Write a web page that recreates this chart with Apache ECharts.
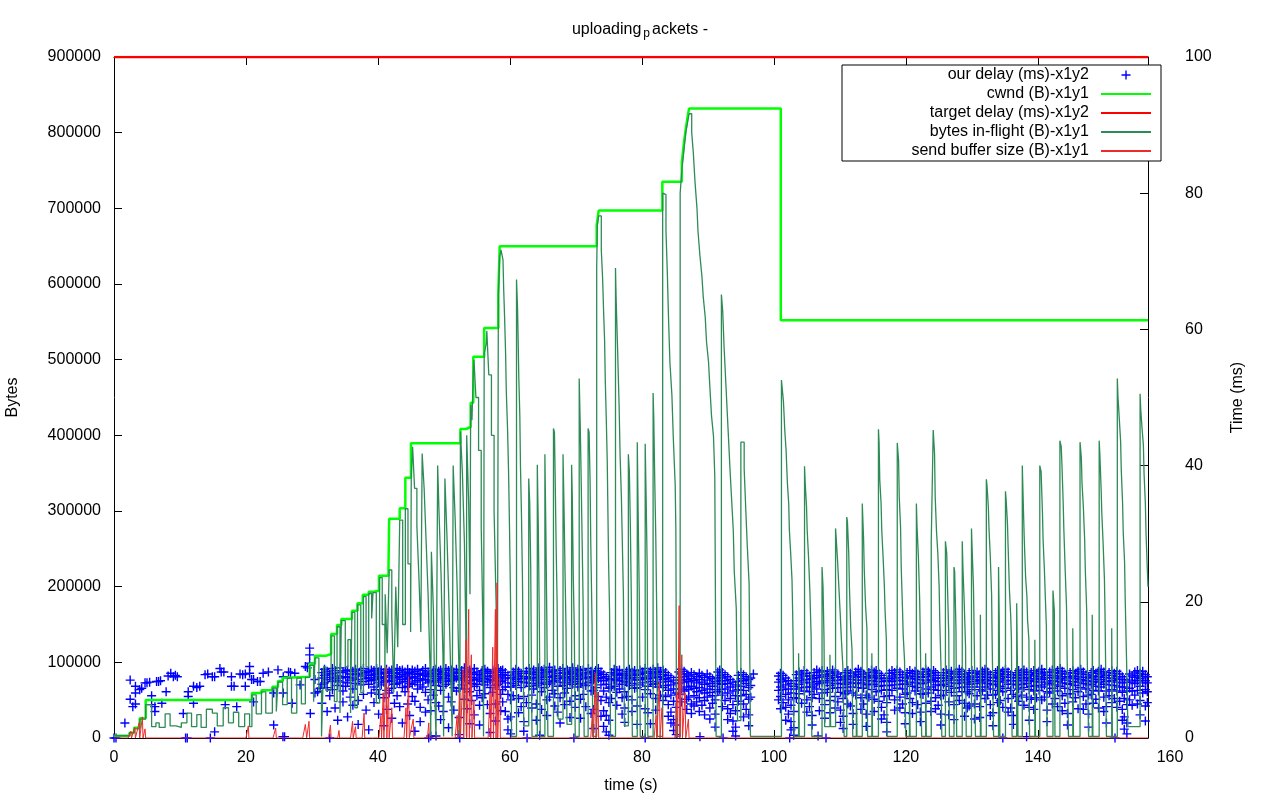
<!DOCTYPE html>
<html>
<head>
<meta charset="utf-8">
<title>uploading packets</title>
<script src="https://cdn.jsdelivr.net/npm/echarts@6.0.0/dist/echarts.min.js"></script>
<style>
  html, body { margin: 0; padding: 0; background: #fff; }
  #chart { width: 1280px; height: 800px; }
</style>
</head>
<body>
<div id="chart"></div>
<script>
// cwnd (bytes), step values [time s, bytes]
const cwnd = [
  [0, 3000], [2.35, 7000], [3.05, 13600], [3.9, 26000], [4.8, 50200], [20.9, 59500], [22.35, 63000],
  [24.0, 67800], [24.85, 75300], [25.55, 79700], [26.45, 81000], [29.65, 98200], [30.45, 108600],
  [32.1, 111000], [32.9, 137400], [33.8, 149300], [34.45, 157300], [36.05, 168200], [36.9, 178000],
  [37.7, 189400], [38.6, 193400], [39.35, 194700], [40.15, 214500], [41.6, 224300], [41.7, 289800],
  [43.3, 303500], [44.15, 344000], [45.0, 389400], [52.5, 408400], [53.35, 411000], [54.05, 443000],
  [54.45, 504000], [56.1, 542000], [58.25, 590000], [58.45, 650000], [73.15, 678000], [73.45, 697000],
  [83.1, 735000], [86.05, 760000], [86.35, 785000], [86.65, 805000], [86.95, 822000], [87.15, 832000],
  [101.05, 552000], [156.7, 552000]
]

// target delay (ms)
const targetDelay = [[0, 100], [156.7, 100]]

// bytes in-flight, step values [time s, bytes]
const inflight = [
  [0, 3e3], [2.35, 7e3], [3.05, 12e3], [3.9, 25e3], [4.8, 44e3], [5.7, 15e3], [6.35, 20e3], [6.85, 14e3],
  [7.75, 32e3], [8.5, 16e3], [9.4, 14e3], [10.2, 20e3], [11.05, 33e3], [11.75, 15e3], [12.55, 31e3],
  [13.2, 14e3], [14.0, 38e3], [14.9, 33e3], [15.65, 16e3], [16.55, 40e3], [17.35, 20e3], [18.1, 34e3],
  [18.9, 15e3], [19.8, 32e3], [20.55, 15e3], [20.9, 57e3], [21.55, 32e3], [22.35, 61e3], [23.0, 33e3],
  [24.0, 66e3], [24.6, 35e3], [24.85, 74e3], [25.55, 44e3], [26.25, 79e3], [26.9, 33e3], [27.7, 79e3],
  [28.4, 45e3], [29.0, 80e3], [29.65, 96e3], [30.25, 48e3], [30.45, 106e3], [31.05, 63e3], [31.45, 2e3],
  [31.75, 94e3], [32.1, 63e3], [32.9, 135e3], [33.4, 48e3], [33.8, 147e3], [34.25, 33e3], [34.45, 155e3],
  [35.05, 94e3], [35.45, 130e3], [35.85, 33e3], [36.05, 166e3], [36.5, 40e3], [36.9, 176e3], [37.4, 60e3],
  [37.8, 187e3], [38.2, 94e3], [38.6, 191e3], [39.05, 158e3], [39.25, 192e3], [39.75, 46e3], [40.25, 212e3],
  [40.65, 150e3], [41.05, 60e3], [41.1, 190e3], [41.4, 112e3], [41.7, 222e3], [42.1, 160e3], [42.4, 60e3],
  [42.7, 200e3], [43.0, 120e3], [43.3, 288e3], [43.75, 150e3], [44.15, 303e3], [44.55, 230e3], [44.95, 140e3],
  [45.05, 345e3], [45.25, 385e3], [45.55, 330e3], [45.9, 280e3], [46.2, 215e3], [46.5, 140e3],
  [46.7, 376e3], [47.0, 330e3], [47.3, 260e3], [47.6, 190e3], [47.9, 90e3], [48.0, 2e3],
  [48.1, 246e3], [48.4, 170e3], [48.6, 60e3], [48.8, 2e3],
  [49.05, 360e3], [49.25, 300e3], [49.55, 220e3], [49.85, 110e3], [49.95, 2e3],
  [50.15, 343e3], [50.45, 270e3], [50.75, 180e3], [51.05, 80e3], [51.25, 2e3],
  [51.4, 360e3], [51.7, 290e3], [52.0, 200e3], [52.3, 80e3], [52.4, 2e3],
  [52.5, 405e3], [52.8, 350e3], [53.1, 260e3], [53.3, 150e3], [53.4, 2e3],
  [53.45, 400e3], [53.75, 310e3], [53.95, 190e3], [54.05, 440e3], [54.25, 420e3], [54.45, 482e3], [54.55, 500e3],
  [54.85, 450e3], [55.25, 380e3], [55.65, 280e3], [55.9, 150e3], [56.0, 2e3],
  [56.1, 508e3], [56.4, 521e3], [56.5, 538e3], [56.8, 480e3], [57.2, 400e3], [57.6, 300e3], [57.9, 180e3], [58.1, 30e3],
  [58.25, 585e3], [58.45, 636e3], [58.65, 645e3], [58.95, 632e3], [59.05, 595e3], [59.2, 554e3], [59.35, 507e3],
  [59.45, 459e3], [59.65, 406e3], [59.8, 350e3], [59.95, 272e3], [60.1, 179e3], [60.2, 63e3], [60.25, 2e3],
  [61.0, 606e3], [61.15, 570e3], [61.25, 525e3], [61.35, 475e3], [61.5, 427e3], [61.6, 359e3], [61.75, 295e3],
  [61.9, 211e3], [62.0, 121e3], [62.1, 16e3],
  [62.85, 343e3], [63.0, 311e3], [63.15, 227e3], [63.25, 107e3], [63.35, 2e3],
  [64.15, 361e3], [64.3, 280e3], [64.45, 159e3], [64.6, 2e3],
  [65.3, 375e3], [65.45, 273e3], [65.6, 150e3], [65.75, 2e3],
  [66.6, 409e3], [66.75, 404e3], [66.85, 348e3], [67.0, 257e3], [67.15, 180e3], [67.3, 25e3],
  [68.05, 375e3], [68.2, 304e3], [68.35, 221e3], [68.5, 146e3], [68.65, 18e3],
  [69.35, 361e3], [69.45, 320e3], [69.6, 214e3], [69.75, 148e3], [69.9, 2e3],
  [70.5, 475e3], [70.65, 416e3], [70.8, 341e3], [70.95, 257e3], [71.1, 175e3], [71.25, 2e3],
  [71.85, 409e3], [72.0, 404e3], [72.15, 339e3], [72.25, 259e3], [72.45, 150e3], [72.55, 2e3],
  [73.15, 620e3], [73.25, 677e3], [73.45, 690e3], [73.85, 645e3], [74.05, 607e3], [74.2, 563e3], [74.35, 525e3],
  [74.45, 473e3], [74.6, 423e3], [74.75, 366e3], [74.95, 234e3], [75.1, 168e3], [75.25, 2e3],
  [76.0, 621e3], [76.1, 579e3], [76.3, 520e3], [76.55, 438e3], [76.7, 373e3], [76.9, 316e3], [77.05, 252e3],
  [77.2, 189e3], [77.35, 16e3],
  [77.95, 375e3], [78.1, 352e3], [78.25, 282e3], [78.4, 184e3], [78.55, 2e3],
  [79.3, 391e3], [79.45, 286e3], [79.6, 191e3], [79.75, 2e3],
  [80.5, 389e3], [80.65, 315e3], [80.8, 226e3], [80.9, 2e3],
  [81.7, 456e3], [81.8, 423e3], [81.95, 340e3], [82.1, 269e3], [82.25, 166e3], [82.35, 2e3],
  [83.15, 720e3], [83.35, 718e3], [83.65, 670e3], [83.85, 616e3], [84.05, 551e3], [84.25, 496e3], [84.55, 453e3],
  [84.75, 399e3], [85.05, 334e3], [85.15, 274e3], [85.25, 2e3],
  [85.8, 720e3], [86.05, 750e3], [86.35, 775e3], [86.65, 800e3], [86.95, 815e3], [87.15, 825e3], [87.55, 800e3],
  [87.8, 773e3], [88.05, 735e3], [88.35, 700e3], [88.5, 670e3], [88.8, 637e3], [89.1, 610e3], [89.3, 583e3],
  [89.6, 556e3], [89.8, 523e3], [90.1, 497e3], [90.3, 464e3], [90.55, 426e3], [90.85, 399e3], [91.05, 345e3], [91.25, 2e3],
  [92.05, 586e3], [92.25, 564e3], [92.45, 518e3], [92.75, 464e3], [93.05, 410e3], [93.35, 356e3], [93.55, 323e3],
  [93.85, 275e3], [94.0, 220e3], [94.3, 172e3], [94.4, 107e3], [94.5, 23e3],
  [95.0, 391e3], [95.5, 356e3], [95.75, 301e3], [95.95, 258e3], [96.25, 204e3], [96.35, 107e3], [96.45, 2e3],
  [101.15, 473e3], [101.45, 445e3], [101.55, 427e3], [101.65, 407e3], [101.85, 381e3], [102.05, 337e3], [102.25, 310e3],
  [102.35, 275e3], [102.55, 244e3], [102.75, 209e3], [102.85, 165e3], [102.95, 110e3], [103.05, 2e3],
  [103.75, 112e3], [103.85, 2e3],
  [104.65, 359e3], [104.75, 337e3], [104.95, 306e3], [105.05, 275e3], [105.25, 240e3], [105.45, 196e3], [105.65, 134e3], [105.75, 2e3],
  [107.3, 226e3], [107.45, 200e3], [107.6, 132e3], [107.7, 15e3],
  [108.5, 110e3], [108.6, 15e3],
  [109.35, 277e3], [109.45, 264e3], [109.65, 235e3], [109.85, 200e3], [110.05, 165e3], [110.25, 128e3], [110.45, 95e3], [110.55, 48e3], [110.65, 2e3],
  [111.05, 292e3], [111.15, 286e3], [111.35, 244e3], [111.45, 200e3], [111.65, 145e3], [111.85, 116e3], [111.95, 2e3],
  [112.5, 81e3], [112.6, 2e3],
  [113.4, 310e3], [113.6, 262e3], [113.7, 222e3], [113.9, 174e3], [114.1, 145e3], [114.2, 2e3],
  [114.85, 112e3], [114.95, 2e3],
  [115.85, 408e3], [115.95, 390e3], [116.05, 341e3], [116.25, 310e3], [116.35, 275e3], [116.55, 240e3], [116.75, 200e3], [116.85, 169e3], [117.05, 130e3], [117.15, 2e3],
  [118.7, 390e3], [118.9, 367e3], [119.0, 319e3], [119.2, 279e3], [119.3, 226e3], [119.5, 169e3], [119.6, 136e3], [119.8, 103e3], [120.0, 2e3],
  [120.55, 81e3], [120.65, 2e3],
  [121.6, 310e3], [121.7, 279e3], [121.9, 240e3], [122.1, 182e3], [122.2, 127e3], [122.4, 2e3],
  [123.0, 112e3], [123.1, 2e3],
  [123.85, 259e3], [124.15, 407e3], [124.35, 376e3], [124.45, 319e3], [124.65, 273e3], [124.85, 244e3], [125.05, 200e3], [125.15, 152e3], [125.35, 86e3], [125.45, 2e3],
  [126.0, 260e3], [126.2, 244e3], [126.3, 204e3], [126.5, 138e3], [126.6, 2e3],
  [127.3, 226e3], [127.4, 220e3], [127.6, 143e3], [127.7, 2e3],
  [128.55, 260e3], [128.65, 226e3], [128.85, 178e3], [129.05, 121e3], [129.15, 2e3],
  [129.95, 277e3], [130.05, 249e3], [130.25, 200e3], [130.35, 141e3], [130.55, 2e3],
  [131.3, 163e3], [131.4, 2e3],
  [132.2, 342e3], [132.3, 334e3], [132.5, 306e3], [132.6, 277e3], [132.8, 240e3], [133.0, 189e3], [133.1, 116e3], [133.3, 2e3],
  [134.05, 226e3], [134.15, 160e3], [134.25, 2e3],
  [135.1, 326e3], [135.2, 315e3], [135.4, 284e3], [135.5, 253e3], [135.7, 196e3], [135.9, 160e3], [136.0, 130e3], [136.1, 2e3],
  [136.8, 178e3], [136.9, 105e3], [137.0, 2e3],
  [137.65, 360e3], [137.85, 293e3], [137.95, 262e3], [138.15, 213e3], [138.35, 187e3], [138.45, 156e3], [138.65, 130e3], [138.75, 2e3],
  [139.55, 130e3], [139.65, 2e3],
  [140.3, 360e3], [140.5, 352e3], [140.7, 299e3], [140.8, 262e3], [141.0, 222e3], [141.1, 196e3], [141.3, 147e3], [141.4, 2e3],
  [142.3, 195e3], [142.5, 169e3], [142.6, 2e3],
  [143.35, 393e3], [143.55, 385e3], [143.65, 363e3], [143.85, 310e3], [143.95, 275e3], [144.15, 222e3], [144.35, 174e3], [144.45, 101e3], [144.65, 2e3],
  [145.3, 145e3], [145.4, 2e3],
  [146.4, 391e3], [146.6, 370e3], [146.7, 337e3], [146.9, 306e3], [147.1, 262e3], [147.2, 222e3], [147.4, 171e3], [147.5, 101e3], [147.7, 2e3],
  [148.25, 163e3], [148.35, 2e3],
  [149.3, 393e3], [149.4, 376e3], [149.6, 328e3], [149.7, 297e3], [149.9, 257e3], [150.1, 209e3], [150.2, 156e3], [150.4, 2e3],
  [151.2, 145e3], [151.3, 2e3],
  [152.05, 475e3], [152.15, 451e3], [152.35, 422e3], [152.55, 392e3], [152.65, 354e3], [152.85, 310e3], [152.95, 271e3],
  [153.15, 233e3], [153.25, 182e3], [153.45, 103e3], [153.65, 15e3],
  [155.5, 455e3], [155.6, 434e3], [155.8, 409e3], [156.0, 387e3], [156.1, 350e3], [156.3, 310e3], [156.4, 271e3],
  [156.6, 222e3], [156.7, 200e3]
]

// send buffer size (bytes)
const sendBuffer = [
  [0, 0], [2.15, 0], [2.55, 9e3], [2.65, 0], [3.15, 14e3], [3.25, 0], [3.8, 20e3], [3.9, 0], [4.3, 28e3], [4.4, 0],
  [4.7, 12e3], [4.8, 0], [20.0, 0], [20.35, 16e3], [20.45, 0], [24.1, 0], [24.5, 13e3], [24.6, 0], [28.6, 0],
  [29.0, 18e3], [29.2, 0], [29.55, 22e3], [29.65, 0], [32.5, 0], [32.8, 17e3], [32.9, 0], [33.9, 0], [34.1, 10e3],
  [34.2, 0], [35.85, 0], [36.15, 22e3], [36.25, 0], [36.6, 15e3], [36.7, 0], [37.6, 0], [37.9, 33e3], [38.0, 0],
  [40.15, 0], [40.45, 30e3], [40.55, 0], [40.8, 60e3], [40.9, 0], [41.25, 94e3], [41.35, 0], [41.6, 70e3], [41.7, 0],
  [42.1, 40e3], [42.2, 0], [43.95, 0], [44.25, 40e3], [44.35, 0], [44.65, 81e3], [44.75, 0], [45.35, 25e3], [45.45, 0],
  [47.5, 0], [47.7, 20e3], [47.8, 0], [51.7, 0], [52.0, 30e3], [52.1, 0], [52.4, 60e3], [52.5, 0], [52.9, 90e3],
  [53.0, 0], [53.35, 130e3], [53.45, 0], [53.75, 170e3], [53.85, 0], [54.15, 110e3], [54.25, 0], [54.55, 50e3],
  [54.65, 0], [56.7, 0], [57.0, 60e3], [57.1, 0], [57.4, 120e3], [57.5, 0], [57.8, 170e3], [57.9, 0], [58.05, 205e3],
  [58.15, 0], [58.45, 80e3], [58.55, 0], [72.25, 0], [72.55, 40e3], [72.65, 0], [72.95, 86e3], [73.05, 0],
  [73.35, 60e3], [73.45, 0], [81.85, 0], [82.15, 30e3], [82.25, 0], [82.65, 74e3], [82.75, 0], [83.05, 40e3],
  [83.15, 0], [85.0, 0], [85.3, 60e3], [85.4, 0], [85.65, 175e3], [85.75, 0], [86.05, 110e3], [86.15, 0],
  [86.55, 60e3], [86.65, 0], [87.05, 25e3], [87.15, 0], [156.7, 0]
]

// our delay (ms): early single samples [time s, ms]
const delayEarly = [
  [0, 0], [0.3, 0], [1.65, 2.2], [2.45, 8.5], [2.45, 5.7], [2.85, 4.6], [3.25, 7.6], [3.25, 6.6], [3.25, 5.0],
  [3.9, 7.1], [4.2, 7.3], [4.7, 8.1], [5.0, 8.1], [5.4, 8.2], [5.7, 6.2], [5.7, 4.9], [6.2, 4.6], [6.2, 3.9],
  [6.45, 8.3], [6.75, 8.3], [7.05, 8.4], [7.25, 5.1], [7.9, 6.8], [8.2, 9.1], [8.6, 9.5], [9.0, 9.0], [9.3, 9.2],
  [9.6, 9.0], [10.5, 3.6], [10.85, 0], [11.25, 6.8], [11.25, 6.1], [12.05, 7.6], [12.05, 5.1], [12.55, 7.4],
  [13.0, 7.6], [13.8, 9.3], [14.2, 9.4], [14.6, 0], [14.9, 9.0], [15.25, 0.9], [15.25, 9.0], [16.05, 10.2],
  [16.25, 9.7], [16.65, 9.7], [16.85, 4.9], [17.8, 9.0], [17.8, 7.6], [18.2, 7.6], [18.6, 4.6], [19.1, 9.4],
  [19.5, 9.3], [19.9, 9.4], [19.9, 7.6], [20.55, 10.5], [20.55, 9.5], [20.85, 8.6], [21.15, 8.6], [21.15, 5.3],
  [21.75, 8.3], [22.15, 8.3], [22.6, 9.5], [23.4, 9.7], [24.2, 6.6], [24.2, 1.9], [24.85, 10.0], [25.65, 9.0],
  [25.65, 6.6], [25.85, 0.2], [26.45, 9.7], [26.75, 9.6], [27.0, 5.1], [27.4, 9.5], [28.2, 7.8], [29.0, 10.5],
  [29.3, 10.3], [29.65, 13.2], [29.65, 12.2], [29.65, 11.0], [29.75, 3.6], [30.45, 8.6], [30.45, 6.6],
  [30.85, 6.8], [31.25, 7.3]
]

// our delay (ms): later samples, several readings per time [time s, ms, ms, ...]
const delayRows = [
  [31.5, 9.6, 8.8, 7.9, 5.1], [31.9, 10.1, 9.2, 8.1], [32.3, 9.8, 8.6, 7.4, 3.9], [32.7, 9.4, 8.9, 6.2],
  [33.1, 10.2, 9.5, 8.3, 7.1], [33.5, 9.9, 8.7, 4.4], [33.9, 9.1, 8.4, 7.7, 2.6], [34.3, 10.3, 9.6, 8.8],
  [34.7, 9.7, 8.2, 6.9, 5.3], [35.1, 9.9, 9.0, 7.6], [35.4, 10.0, 8.9, 8.1, 3.1], [35.8, 9.4, 8.5, 6.0],
  [36.2, 9.8, 8.8, 7.2, 4.8], [36.6, 10.1, 9.3, 8.0], [37.0, 9.5, 8.6, 5.5, 2.0], [37.4, 9.9, 9.1, 7.8],
  [37.8, 10.2, 9.4, 8.3, 6.4], [38.2, 9.6, 8.7, 4.1], [38.6, 9.8, 8.9, 7.9, 1.2], [39.0, 10.0, 9.2, 8.4, 6.6],
  [39.4, 9.9, 9.3, 8.6, 7.5, 5.2], [39.8, 10.2, 9.5, 8.8, 7.1], [40.1, 9.7, 9.0, 8.1, 6.4, 3.5], [40.5, 10.0, 9.4, 8.7, 7.8],
  [40.9, 9.6, 8.9, 8.2, 5.9, 1.8], [41.3, 10.1, 9.5, 8.4, 7.0, 4.2], [41.7, 9.8, 9.1, 8.3, 6.6], [42.1, 10.0, 9.2, 8.5, 7.3, 2.9],
  [42.5, 9.5, 8.8, 7.9, 5.1], [42.9, 10.2, 9.6, 8.9, 8.0, 6.2], [43.3, 9.9, 9.0, 8.2, 4.6], [43.7, 10.0, 9.3, 8.6, 7.4, 2.2],
  [44.1, 9.7, 9.1, 8.3, 6.8], [44.5, 10.1, 9.5, 8.7, 7.6, 5.0], [44.8, 9.6, 8.9, 8.0, 3.3], [45.2, 10.0, 9.4, 8.8, 7.9, 6.1],
  [45.6, 9.8, 9.0, 8.2, 5.4, 1.0], [46.0, 10.1, 9.3, 8.4, 7.2], [46.4, 9.5, 8.7, 7.8, 4.5, 2.4], [46.8, 9.9, 9.2, 8.5, 7.5],
  [47.2, 10.2, 9.4, 8.6, 6.7, 3.8], [47.6, 9.7, 9.0, 8.1, 5.6], [48.0, 9.4, 8.3, 7.1, 4.0, 0.3], [48.4, 9.9, 9.1, 8.4, 6.3],
  [48.8, 10.1, 9.5, 8.7, 7.7, 5.2], [49.2, 9.8, 9.0, 8.2, 4.7], [49.5, 10.0, 9.3, 8.5, 7.0, 2.7], [49.9, 9.6, 8.8, 7.6, 3.9],
  [50.3, 10.2, 9.4, 8.7, 7.9], [50.7, 9.9, 9.1, 8.3, 6.0, 1.5], [51.1, 10.0, 9.2, 8.4, 5.3], [51.5, 9.7, 9.0, 8.6, 7.4, 4.1],
  [51.9, 10.1, 9.5, 8.8, 6.9], [52.3, 9.5, 8.7, 7.3, 3.0, 0.5], [52.7, 9.9, 9.2, 8.5, 7.8], [53.1, 10.3, 9.6, 8.9, 7.2, 5.7],
  [53.5, 9.8, 9.0, 8.1, 4.3], [53.9, 10.0, 9.3, 8.4, 6.8, 2.1], [54.2, 9.6, 8.9, 8.0, 5.5], [54.6, 10.2, 9.4, 8.6, 7.6, 3.4],
  [55.0, 9.7, 8.8, 7.9, 6.2], [55.4, 9.3, 8.5, 7.0, 4.8, 1.9], [55.8, 9.9, 9.1, 8.3, 5.9], [56.2, 10.1, 9.5, 8.7, 7.8, 6.5],
  [56.6, 9.8, 9.0, 8.2, 4.9], [57.0, 9.5, 8.6, 7.4, 3.6, 0.8], [57.4, 10.0, 9.2, 8.4, 6.7], [57.8, 9.7, 8.9, 7.7, 5.0, 2.5],
  [58.2, 10.2, 9.6, 8.8, 7.9], [58.6, 9.9, 9.1, 8.3, 6.4, 4.0], [58.9, 10.0, 9.3, 8.5, 7.1, 5.3], [59.3, 9.6, 8.8, 7.5, 3.9],
  [59.7, 9.2, 8.1, 6.4, 2.8, 1.2], [60.1, 8.8, 7.5, 5.6, 3.1, 0.6], [60.5, 9.7, 8.9, 8.0, 6.2], [60.9, 10.1, 9.4, 8.6, 7.7],
  [61.3, 9.8, 9.1, 8.3, 5.8, 3.7], [61.7, 9.5, 8.7, 7.4, 4.6], [62.1, 9.0, 8.2, 6.1, 2.4, 1.0], [62.5, 9.8, 9.0, 8.1, 5.2],
  [62.9, 10.2, 9.5, 8.7, 7.6], [63.3, 9.7, 8.9, 8.0, 6.3, 4.4], [63.6, 10.0, 9.3, 8.5, 7.2], [64.0, 9.6, 8.8, 7.7, 5.0, 2.6],
  [64.4, 10.3, 9.6, 8.9, 8.0], [64.8, 9.9, 9.1, 8.2, 6.8, 4.2], [65.2, 10.1, 9.4, 8.6, 7.4], [65.6, 9.7, 8.9, 7.9, 5.6, 3.3],
  [66.0, 10.4, 9.7, 8.9, 8.1, 6.0], [66.4, 9.8, 9.0, 8.3, 7.0], [66.8, 10.0, 9.2, 8.4, 6.5, 4.7], [67.2, 9.5, 8.7, 7.6, 3.8],
  [67.6, 9.9, 9.1, 8.2, 5.9, 2.2], [68.0, 10.2, 9.5, 8.8, 7.7], [68.3, 9.6, 8.9, 8.1, 6.6, 4.9], [68.7, 10.0, 9.3, 8.5, 7.3],
  [69.1, 9.8, 9.0, 8.2, 5.4, 3.0], [69.5, 10.3, 9.5, 8.7, 7.9], [69.9, 9.7, 9.0, 8.3, 6.2, 4.5], [70.3, 10.1, 9.3, 8.6, 7.5],
  [70.7, 9.9, 9.1, 8.0, 5.7, 2.9], [71.1, 10.0, 9.4, 8.7, 7.8, 6.4], [71.5, 9.6, 8.8, 7.7, 4.6], [71.9, 10.2, 9.6, 8.9, 8.1],
  [72.3, 9.8, 9.0, 8.2, 6.9, 3.6], [72.7, 9.4, 8.5, 7.0, 4.2, 1.4], [73.0, 9.9, 9.2, 8.4, 7.4], [73.4, 10.2, 9.5, 8.7, 6.1],
  [73.8, 9.7, 8.9, 7.8, 5.5, 3.2], [74.2, 9.3, 8.4, 6.9, 4.0, 1.7], [74.6, 9.0, 7.9, 6.0, 3.3, 0.9], [75.0, 8.7, 7.3, 5.2, 2.6, 0.4],
  [75.4, 9.6, 8.6, 7.5, 5.8], [75.8, 10.1, 9.4, 8.6, 7.6], [76.2, 9.9, 9.2, 8.4, 6.7, 4.8], [76.6, 10.0, 9.3, 8.5, 7.2],
  [77.0, 9.5, 8.8, 7.9, 5.9, 3.5], [77.4, 9.2, 8.3, 6.8, 4.4, 2.3], [77.7, 9.8, 9.1, 8.2, 6.1], [78.1, 10.1, 9.4, 8.7, 7.7],
  [78.5, 9.7, 8.9, 8.0, 5.6, 3.9], [78.9, 9.9, 9.2, 8.5, 7.3], [79.3, 9.4, 8.6, 7.4, 4.7, 2.0], [79.7, 10.0, 9.3, 8.6, 7.8],
  [80.1, 9.7, 8.9, 8.1, 6.0], [80.5, 10.2, 9.5, 8.7, 7.1, 4.3], [80.9, 9.5, 8.7, 7.6, 3.7], [81.3, 9.8, 9.1, 8.3, 6.5, 2.1],
  [81.7, 10.1, 9.4, 8.8, 7.9], [82.1, 9.6, 8.9, 8.0, 5.8, 4.1], [82.4, 10.3, 9.6, 8.9, 7.5], [82.8, 9.8, 9.0, 8.2, 6.3],
  [83.2, 10.0, 9.3, 8.6, 7.4, 5.5], [83.6, 9.6, 8.7, 7.7, 6.1], [84.0, 9.2, 8.3, 7.0, 4.9, 3.2], [84.4, 8.9, 7.8, 6.3, 3.8, 2.2],
  [84.8, 8.5, 7.2, 5.4, 2.7, 1.1], [85.2, 8.1, 6.6, 4.5, 1.9, 0.5], [85.6, 9.7, 8.9, 8.0, 6.4], [86.0, 10.1, 9.4, 8.5, 7.2, 5.3],
  [86.4, 9.8, 9.0, 8.2, 6.9], [86.8, 9.4, 8.6, 7.5, 5.7, 4.2], [87.1, 9.1, 8.3, 7.1, 6.0], [87.5, 9.6, 8.7, 7.6, 5.0, 3.6],
  [87.9, 9.3, 8.4, 7.3, 6.2, 4.7], [88.3, 9.0, 8.1, 6.8, 5.3], [88.7, 9.5, 8.6, 7.4, 5.9, 3.9], [89.1, 9.2, 8.2, 7.0, 4.8],
  [89.5, 8.9, 7.9, 6.6, 5.5, 3.4], [89.9, 9.4, 8.5, 7.2, 6.0], [90.3, 9.0, 8.0, 6.7, 4.4, 2.8], [90.7, 8.7, 7.6, 6.2, 5.1],
  [91.1, 8.3, 7.1, 5.6, 3.5, 1.6], [91.5, 9.7, 8.9, 8.0, 6.8], [91.8, 10.0, 9.2, 8.4, 7.1], [92.2, 9.6, 8.8, 7.9, 6.3, 4.6],
  [92.6, 9.3, 8.4, 7.2, 5.5], [93.0, 9.0, 8.0, 6.6, 4.3, 2.7], [93.4, 8.6, 7.5, 5.8, 3.6], [93.8, 8.2, 6.9, 4.9, 2.5, 1.0],
  [94.2, 7.8, 6.2, 4.0, 1.6, 0.3], [94.6, 9.2, 8.3, 7.1, 5.4], [95.0, 9.6, 8.7, 7.6, 6.2], [95.4, 9.3, 8.4, 7.0, 5.0, 3.1],
  [95.8, 9.0, 8.0, 6.4, 4.2], [96.2, 8.6, 7.4, 5.7, 3.4, 1.8], [96.5, 8.8, 7.7, 6.0], [96.9, 9.4],
  [100.7, 9.1, 8.2, 7.0, 5.6], [101.0, 9.5, 8.6, 7.5, 6.1, 4.3], [101.4, 9.2, 8.3, 7.1, 5.2], [101.8, 8.8, 7.8, 6.4, 4.5, 2.6],
  [102.2, 8.4, 7.2, 5.6, 3.5], [102.6, 8.0, 6.6, 4.8, 2.4, 1.2], [103.0, 7.6, 5.9, 3.9, 1.5, 0.4], [103.4, 9.3, 8.4, 7.2, 5.8],
  [103.8, 9.7, 8.8, 7.9, 6.5], [104.2, 9.4, 8.5, 7.4, 5.1], [104.6, 9.9, 9.1, 8.2, 6.9], [105.0, 9.5, 8.6, 7.5, 5.6, 3.8],
  [105.4, 9.1, 8.1, 6.8, 4.6], [105.8, 8.7, 7.5, 5.9, 3.3, 1.9], [106.1, 9.6, 8.8, 7.8, 6.4], [106.5, 10.0, 9.2, 8.3, 7.2],
  [106.9, 9.7, 8.9, 8.0, 5.8, 4.0], [107.3, 9.9, 9.1, 8.2, 6.6], [107.7, 9.3, 8.4, 7.1, 4.9, 2.9], [108.1, 9.8, 9.0, 8.1, 6.7],
  [108.5, 9.5, 8.7, 7.7, 5.5, 3.7], [108.9, 10.0, 9.2, 8.4, 7.3], [109.3, 9.7, 8.9, 8.0, 6.1, 4.4], [109.7, 9.4, 8.5, 7.4, 5.3],
  [110.1, 9.0, 8.0, 6.7, 4.1, 2.3], [110.5, 8.6, 7.4, 5.8, 3.2, 1.4], [110.8, 9.6, 8.8, 7.9, 6.5], [111.2, 9.9, 9.1, 8.2, 6.9, 5.0],
  [111.6, 9.5, 8.6, 7.5, 4.7], [112.0, 9.1, 8.1, 6.6, 3.6, 2.0], [112.4, 9.7, 8.9, 8.0, 6.3], [112.8, 10.1, 9.3, 8.5, 7.4],
  [113.2, 9.8, 9.0, 8.1, 5.9, 4.2], [113.6, 9.4, 8.5, 7.3, 5.0], [114.0, 9.0, 7.9, 6.3, 3.5, 1.7], [114.4, 9.6, 8.8, 7.8, 6.0],
  [114.8, 10.0, 9.2, 8.4, 7.1], [115.2, 9.7, 8.9, 7.9, 5.7, 3.9], [115.5, 9.9, 9.1, 8.3, 6.8], [115.9, 9.5, 8.7, 7.6, 5.4],
  [116.3, 9.2, 8.3, 7.0, 4.5, 2.8], [116.7, 8.8, 7.7, 6.1, 3.4], [117.1, 8.4, 7.1, 5.2, 2.3, 0.9], [117.5, 9.5, 8.7, 7.7, 6.2],
  [117.9, 9.9, 9.1, 8.3, 7.0], [118.3, 9.6, 8.8, 7.8, 5.6, 4.1], [118.7, 10.0, 9.3, 8.5, 7.3], [119.1, 9.7, 8.9, 7.9, 6.0, 4.4],
  [119.5, 9.3, 8.4, 7.2, 5.0], [119.9, 8.9, 7.9, 6.4, 3.7, 2.1], [120.2, 9.6, 8.8, 7.9, 6.6], [120.6, 9.9, 9.1, 8.2, 5.8],
  [121.0, 9.5, 8.7, 7.6, 5.2, 3.6], [121.4, 9.8, 9.0, 8.1, 6.9], [121.8, 9.4, 8.6, 7.4, 4.9], [122.2, 9.0, 8.0, 6.5, 3.8, 2.4],
  [122.6, 9.7, 8.9, 8.0, 6.4], [123.0, 10.1, 9.3, 8.5, 7.2, 5.1], [123.4, 9.8, 9.0, 8.2, 6.6], [123.8, 9.5, 8.6, 7.5, 5.4, 3.9],
  [124.2, 9.9, 9.2, 8.4, 7.1], [124.5, 9.6, 8.8, 7.8, 5.9, 4.3], [124.9, 9.2, 8.3, 7.0, 4.8], [125.3, 8.8, 7.7, 6.2, 3.5, 1.9],
  [125.7, 9.6, 8.8, 7.9, 6.3], [126.1, 10.0, 9.2, 8.4, 7.0], [126.5, 9.5, 8.7, 7.6, 5.3, 3.4], [126.9, 9.8, 9.0, 8.1, 6.7],
  [127.3, 9.4, 8.5, 7.3, 4.9, 2.7], [127.7, 9.7, 8.9, 8.0, 6.2], [128.1, 10.1, 9.3, 8.5, 7.4, 5.5], [128.5, 9.8, 9.0, 8.2, 6.8],
  [128.9, 9.4, 8.6, 7.5, 5.1, 3.2], [129.3, 9.0, 8.1, 6.8, 4.4], [129.6, 9.6, 8.8, 7.9, 6.5, 4.7], [130.0, 9.9, 9.1, 8.3, 7.1],
  [130.4, 9.5, 8.6, 7.5, 5.0, 2.8], [130.8, 9.7, 8.9, 8.0, 6.2], [131.2, 9.3, 8.4, 7.1, 4.6, 3.0], [131.6, 9.8, 9.0, 8.2, 6.9],
  [132.0, 10.1, 9.4, 8.6, 7.5, 5.8], [132.4, 9.7, 8.9, 8.0, 6.3], [132.8, 9.3, 8.4, 7.2, 4.9, 3.3], [133.2, 8.9, 7.8, 6.3, 3.7, 1.8],
  [133.6, 9.6, 8.8, 7.9, 6.4], [133.9, 9.9, 9.1, 8.3, 7.0, 5.2], [134.3, 9.5, 8.7, 7.6, 5.5], [134.7, 9.8, 9.0, 8.2, 6.8, 4.5],
  [135.1, 10.1, 9.3, 8.5, 7.3], [135.5, 9.7, 8.9, 7.9, 5.8, 3.8], [135.9, 9.3, 8.4, 7.0, 4.4], [136.3, 8.9, 7.9, 6.4, 3.3, 2.0],
  [136.7, 9.6, 8.8, 7.8, 6.1], [137.1, 9.9, 9.2, 8.4, 7.2, 5.4], [137.5, 9.6, 8.8, 7.9, 6.3], [137.9, 10.0, 9.3, 8.5, 7.4, 4.8],
  [138.3, 9.7, 8.9, 8.0, 6.0], [138.7, 9.3, 8.4, 7.1, 4.5, 2.6], [139.0, 9.6, 8.7, 7.6, 5.7], [139.4, 9.9, 9.1, 8.3, 6.9, 4.2],
  [139.8, 9.5, 8.7, 7.7, 5.9], [140.2, 9.8, 9.0, 8.2, 7.0], [140.6, 10.1, 9.4, 8.6, 7.5, 5.6], [141.0, 9.6, 8.8, 7.8, 6.0],
  [141.4, 9.2, 8.2, 6.8, 4.1, 2.4], [141.8, 9.7, 8.9, 8.0, 6.6], [142.2, 10.0, 9.2, 8.4, 7.3, 5.0], [142.6, 9.6, 8.8, 7.8, 5.8],
  [143.0, 9.9, 9.1, 8.3, 6.9, 4.6], [143.4, 10.2, 9.5, 8.7, 7.6], [143.7, 9.8, 9.0, 8.1, 6.2, 4.0], [144.1, 9.4, 8.5, 7.3, 5.1],
  [144.5, 9.0, 8.0, 6.5, 3.6, 1.9], [144.9, 9.6, 8.8, 7.9, 6.5], [145.3, 9.9, 9.1, 8.3, 7.1, 5.3], [145.7, 9.5, 8.7, 7.7, 5.9],
  [146.1, 9.8, 9.0, 8.2, 6.8, 4.3], [146.5, 10.1, 9.4, 8.6, 7.4], [146.9, 9.7, 8.9, 8.0, 6.1, 4.2], [147.3, 9.3, 8.4, 7.2, 5.0],
  [147.7, 8.9, 7.8, 6.3, 3.5, 1.6], [148.1, 9.6, 8.8, 7.9, 6.4], [148.4, 9.9, 9.1, 8.3, 7.0, 5.1], [148.8, 9.5, 8.6, 7.6, 5.7],
  [149.2, 9.8, 9.0, 8.2, 6.9, 4.4], [149.6, 10.1, 9.4, 8.6, 7.5], [150.0, 9.7, 8.9, 7.9, 6.0, 3.9], [150.4, 9.2, 8.3, 6.9, 4.6, 2.2],
  [150.8, 9.6, 8.8, 7.8, 6.2], [151.2, 9.9, 9.2, 8.4, 7.1, 5.2], [151.6, 9.5, 8.7, 7.7, 5.8], [152.0, 9.8, 9.0, 8.2, 6.9, 4.5],
  [152.4, 9.4, 8.6, 7.5, 5.4], [152.8, 9.0, 8.1, 6.7, 4.2, 2.6], [153.1, 8.6, 7.5, 5.8, 3.1, 1.3], [153.5, 8.2, 6.9, 4.9, 2.2, 0.6],
  [153.9, 9.4, 8.5, 7.3, 5.6], [154.3, 9.1, 8.2, 6.9, 4.8], [154.7, 9.7, 8.9, 8.0, 6.3], [155.1, 9.9, 9.2, 8.4, 7.0, 5.0],
  [155.5, 9.5, 8.7, 7.6, 5.5, 3.4], [155.9, 9.8, 9.0, 8.1, 6.6], [156.3, 9.3, 8.4, 7.1, 4.7, 2.5], [156.6, 9.0, 8.1, 6.8, 5.2]
]

// our delay (ms): readings near zero
const delayZero = [
  [11.1, 0], [25.6, 0.2], [32.7, 0], [47.7, 0], [48.8, 0.3], [52.4, 0], [62.6, 0], [64.5, 0.4], [69.7, 0],
  [80.5, 0], [88.8, 0.2], [92.3, 0], [102.4, 0], [106.7, 0.3], [107.9, 0], [134.7, 0], [138.3, 0.2], [151.7, 0]
]

const xTicks = [0, 20, 40, 60, 80, 100, 120, 140, 160]

const fontFamily = '"Liberation Sans", Arial, sans-serif'
const plus = "path://M3.8,0H5.2V9H3.8Z M0,3.8H9V5.2H0Z"

const delayPoints = delayEarly.slice()
delayRows.forEach((r) => {
	for (let i = 1; i < r.length; i++) delayPoints.push([r[0], r[i]])
})
delayZero.forEach((p) => delayPoints.push(p))

const black = { color: "#000", width: 1 }
const labelStyle = { color: "#000", fontSize: 16, fontFamily: fontFamily, fontWeight: "normal" }
const noDot = { opacity: 0 }

const chart = echarts.init(document.getElementById("chart"))

const options = {
	animation: false,
	backgroundColor: "#fff",
	title: {
		text: "{n|uploading}{s|p}{n|ackets -}",
		left: "center",
		top: 17,
		textStyle: {
			fontWeight: "normal",
			rich: {
				n: { fontSize: 16, fontFamily: fontFamily, fontWeight: "normal", color: "#000", lineHeight: 20, verticalAlign: "top" },
				s: { fontSize: 12, fontFamily: fontFamily, fontWeight: "normal", color: "#000", lineHeight: 20, verticalAlign: "top", padding: [6, 2, 0, 2] },
			},
		},
	},
	legend: {
		orient: "vertical",
		left: 842,
		top: 65,
		align: "right",
		itemWidth: 50,
		itemHeight: 9,
		itemGap: 3,
		padding: [2, 9, 2, 17],
		borderColor: "#000",
		borderWidth: 1,
		borderRadius: 0,
		backgroundColor: "#fff",
		selectedMode: false,
		formatter: (name) => "{n|" + name + "}",
		textStyle: {
			color: "#000",
			fontSize: 16,
			fontFamily: fontFamily,
			rich: {
				n: { width: 230, align: "right", padding: [0, 7, 0, 0], lineHeight: 19, fontSize: 16, fontFamily: fontFamily, color: "#000" },
			},
		},
		data: [
			{ name: "our delay (ms)-x1y2", itemStyle: { opacity: 1 } },
			{ name: "cwnd (B)-x1y1", itemStyle: noDot },
			{ name: "target delay (ms)-x1y2", itemStyle: noDot },
			{ name: "bytes in-flight (B)-x1y1", itemStyle: noDot },
			{ name: "send buffer size (B)-x1y1", itemStyle: noDot },
		],
	},
	grid: [
		{ left: 114, right: 132, top: 57, bottom: 62, containLabel: false, outerBoundsMode: "none" },
		{ left: 114, right: 110, top: 57, bottom: 62, containLabel: false, outerBoundsMode: "none" },
	],
	xAxis: [
		{
			type: "value",
			gridIndex: 0,
			min: 0,
			max: 156.7,
			interval: 20,
			name: "time (s)",
			nameLocation: "middle",
			nameGap: 40,
			nameTextStyle: labelStyle,
			axisLine: { show: true, onZero: false, lineStyle: black },
			axisTick: { show: true, inside: true, length: 8, lineStyle: black },
			axisLabel: { ...labelStyle, margin: 12, showMaxLabel: false },
			splitLine: { show: false },
		},
		{
			type: "value",
			gridIndex: 0,
			position: "top",
			min: 0,
			max: 156.7,
			interval: 20,
			axisLine: { show: true, onZero: false, lineStyle: black },
			axisTick: { show: true, inside: true, length: 8, lineStyle: black },
			axisLabel: { show: false },
			splitLine: { show: false },
		},
		{
			// last tick label, which lies past the end of the data range
			type: "value",
			gridIndex: 1,
			min: 0,
			max: xTicks[xTicks.length - 1],
			interval: 20,
			axisLine: { show: false },
			axisTick: { show: false },
			splitLine: { show: false },
			axisLabel: {
				...labelStyle,
				margin: 12,
				formatter: (v) => (v === xTicks[xTicks.length - 1] ? String(v) : ""),
			},
		},
	],
	yAxis: [
		{
			type: "value",
			gridIndex: 0,
			position: "left",
			min: 0,
			max: 900000,
			interval: 100000,
			name: "Bytes",
			nameLocation: "middle",
			nameGap: 93,
			nameRotate: 90,
			nameTextStyle: labelStyle,
			axisLine: { show: true, onZero: false, lineStyle: black },
			axisTick: { show: true, inside: true, length: 8, lineStyle: black },
			axisLabel: { ...labelStyle, margin: 13, formatter: (v) => String(v) },
			splitLine: { show: false },
		},
		{
			type: "value",
			gridIndex: 0,
			position: "right",
			min: 0,
			max: 100,
			interval: 20,
			name: "Time (ms)",
			nameLocation: "middle",
			nameGap: 82,
			nameRotate: 90,
			nameTextStyle: labelStyle,
			axisLine: { show: true, onZero: false, lineStyle: black },
			axisTick: { show: true, inside: true, length: 8, lineStyle: black },
			axisLabel: { ...labelStyle, margin: 37 },
			splitLine: { show: false },
		},
		{ type: "value", gridIndex: 1, show: false, min: 0, max: 1 },
	],
	series: [
		{
			name: "our delay (ms)-x1y2",
			type: "scatter",
			xAxisIndex: 0,
			yAxisIndex: 1,
			symbol: plus,
			symbolSize: 9,
			large: false,
			itemStyle: { color: "#0000ff", opacity: 1 },
			data: delayPoints,
		},
		{
			name: "cwnd (B)-x1y1",
			type: "line",
			xAxisIndex: 0,
			yAxisIndex: 0,
			step: "end",
			symbol: "none",
			itemStyle: { color: "#00ff00" },
			lineStyle: { color: "#00ff00", width: 2.5 },
			data: cwnd,
		},
		{
			name: "target delay (ms)-x1y2",
			type: "line",
			xAxisIndex: 0,
			yAxisIndex: 1,
			symbol: "none",
			itemStyle: { color: "#ff0000" },
			lineStyle: { color: "#ff0000", width: 2.5 },
			data: targetDelay,
		},
		{
			name: "bytes in-flight (B)-x1y1",
			type: "line",
			xAxisIndex: 0,
			yAxisIndex: 0,
			step: "end",
			symbol: "none",
			itemStyle: { color: "#2e8b57" },
			lineStyle: { color: "#2e8b57", width: 1.3 },
			data: inflight,
		},
		{
			name: "send buffer size (B)-x1y1",
			type: "line",
			xAxisIndex: 0,
			yAxisIndex: 0,
			symbol: "none",
			itemStyle: { color: "#ee2a2a" },
			lineStyle: { color: "#ee2a2a", width: 1 },
			data: sendBuffer,
		},
	],
}

chart.setOption(options)
</script>
</body>
</html>
